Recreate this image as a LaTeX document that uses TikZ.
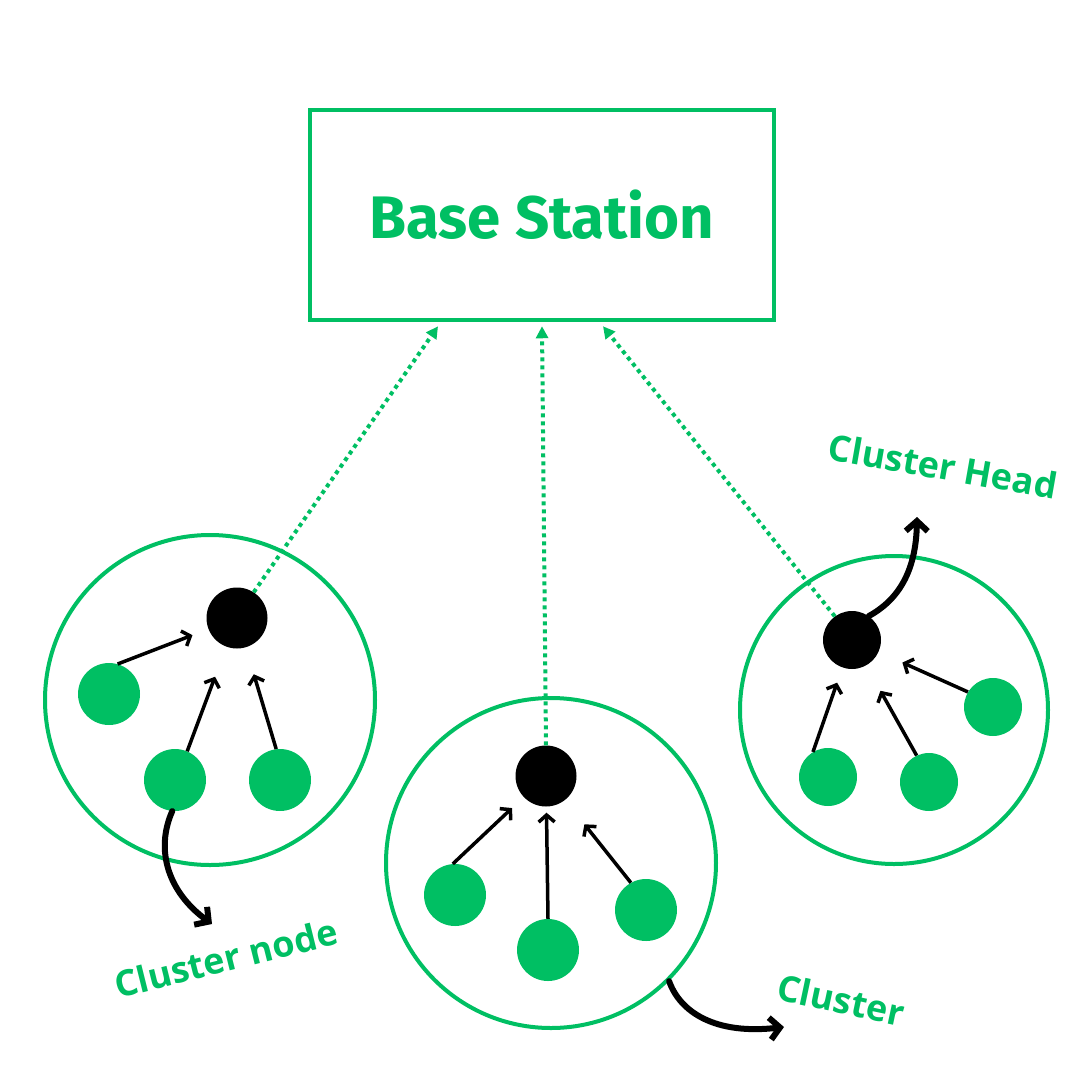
\documentclass[tikz,border=0pt]{standalone}
\usepackage{fontspec}
\setmainfont{Fira Sans}
\newfontfamily\tagfont{Open Sans}
\usetikzlibrary{arrows.meta}
\definecolor{bsgreen}{HTML}{00BF63}
\begin{document}
\begin{tikzpicture}[x=1pt, y=-1pt,
    station/.style={draw=bsgreen, line width=4.5pt, minimum width=464pt, minimum height=210pt, inner sep=0pt},
    cluster/.style={circle, draw=bsgreen, line width=4pt, inner sep=0pt},
    head/.style={circle, fill=black, minimum size=61pt, inner sep=0pt},
    member/.style={circle, fill=bsgreen, minimum size=62pt, inner sep=0pt},
    feed/.style={-{Straight Barb[length=7pt,width=16pt]}, line width=3.5pt},
    uplink/.style={-{Triangle[length=12pt,width=12pt]}, bsgreen, line width=4pt, dash pattern=on 4pt off 4pt},
    pointer/.style={-{Straight Barb[length=10pt,width=22pt]}, line width=6pt, line cap=round},
    tag/.style={text=bsgreen, font=\tagfont\bfseries\fontsize{36}{42}\selectfont, inner sep=0pt}]
    \useasboundingbox (0,0) rectangle (1080,1080);
    % Base station
    \node[station, text=bsgreen, font=\bfseries\fontsize{60}{68}\selectfont] (bs) at (542,215) {Base Station};
    % Clusters
    \node[cluster, minimum size=330pt] (c1) at (210,700) {};
    \node[cluster, minimum size=330pt] (c2) at (551,863) {};
    \node[cluster, minimum size=308pt] (c3) at (894,710) {};
    % Cluster heads
    \node[head] (h1) at (237,618) {};
    \node[head] (h2) at (546,776) {};
    \node[head, minimum size=58pt] (h3) at (852,640) {};
    % Cluster members
    \node[member] (n11) at (109,694) {};
    \node[member] (n12) at (175,780) {};
    \node[member] (n13) at (280,780) {};
    \node[member] (n21) at (455,895) {};
    \node[member] (n22) at (548,950) {};
    \node[member] (n23) at (646,910) {};
    \node[member, minimum size=58pt] (n31) at (828,777) {};
    \node[member, minimum size=58pt] (n32) at (929,782) {};
    \node[member, minimum size=58pt] (n33) at (993,707) {};
    % Members to heads
    \foreach \src/\ang/\dst/\gap in {n11/74/h1/17, n12/67/h1/32, n13/97/h1/28,
                                     n21/94/h2/16, n22/90/h2/6, n23/119/h2/31,
                                     n31/121/h3/16, n32/115/h3/29, n33/149/h3/26}
    {
    \draw[feed, shorten >=\gap pt] (\src.\ang) -- (\dst);
    }
    % Heads to base station
    \draw[uplink] (h1.57) -- ([xshift=-104pt, yshift=-4pt]bs.south);
    \draw[uplink] (h2.north) -- ([xshift=-4pt, yshift=-4pt]h2.north |- bs.south);
    \draw[uplink] (h3.126) -- ([xshift=61pt, yshift=-4pt]bs.south);
    % Labels
    \coordinate (cn) at (212,924);
    \coordinate (cl) at (784,1027);
    \coordinate (ch) at (917,517);
    \draw[pointer] (n12.265) .. controls (155,850) and (168,892) .. (cn);
    \draw[pointer] (c2.-45) .. controls (680,1012) and (715,1035) .. (cl);
    \draw[pointer] (h3.55) .. controls (898,600) and (916,572) .. (ch);
    \node[tag, rotate=14] (lnode) at (226,958) {Cluster node};
    \node[tag, rotate=-12] (lclus) at (841,1000) {Cluster};
    \node[tag, rotate=-10] (lhead) at (943,466) {Cluster Head};
\end{tikzpicture}
\end{document}
